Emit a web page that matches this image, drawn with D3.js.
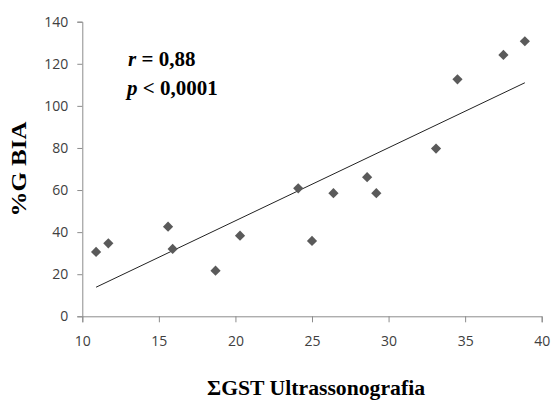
<!DOCTYPE html>
<html>
<head>
<meta charset="utf-8">
<script src="https://cdn.jsdelivr.net/npm/d3@7"></script>
<style>
body{margin:0;background:#fff;}
svg{display:block;}
</style>
</head>
<body>
<svg width="551" height="400"></svg>
<script>
// data
var gst = [10.9, 11.7, 15.6, 15.9, 18.7, 20.3, 24.1, 25.0, 26.4, 28.6, 29.2, 33.1, 34.5, 37.5, 38.9];
var gbia = [30.6, 34.7, 42.6, 32.0, 21.7, 38.3, 60.8, 35.8, 58.5, 66.1, 58.5, 79.7, 112.6, 124.2, 130.7];
var xTicks = [10, 15, 20, 25, 30, 35, 40];
var yTicks = [0, 20, 40, 60, 80, 100, 120, 140];
var trendX = [10.9, 38.9];
var slope = 3.47, intercept = -24.0;

var svg = d3.select('svg');
var x = d3.scaleLinear().domain([10, 40]).range([82.3, 541.7]);
var y = d3.scaleLinear().domain([0, 140]).range([316.3, 21.7]);

var ax = svg.append('g').attr('transform', 'translate(0,316.3)')
  .call(d3.axisBottom(x).tickValues(xTicks).tickSizeOuter(0).tickSize(6).tickPadding(14));
var ay = svg.append('g').attr('transform', 'translate(82.3,0)')
  .call(d3.axisLeft(y).tickValues(yTicks).tickSizeOuter(0).tickSize(5).tickPadding(9));
[ax, ay].forEach(function (g) {
  g.selectAll('path,line').attr('stroke', '#8c8c8c');
  g.selectAll('text').attr('fill', '#404040').style('font-family', "'Open Sans', sans-serif").style('font-size', '14px');
});

svg.append('line')
  .attr('x1', x(trendX[0])).attr('y1', y(slope * trendX[0] + intercept))
  .attr('x2', x(trendX[1])).attr('y2', y(slope * trendX[1] + intercept))
  .attr('stroke', '#222').attr('stroke-width', 1);

var sym = d3.symbol().type(d3.symbolSquare).size(52);
svg.selectAll('.pt').data(gst).enter().append('path')
  .attr('class', 'pt')
  .attr('d', sym)
  .attr('transform', function (d, i) { return 'translate(' + x(d) + ',' + y(gbia[i]) + ') rotate(45)'; })
  .attr('fill', '#5a5a5a');

var serif = "'Liberation Serif', 'Times New Roman', serif";
var t1 = svg.append('text').attr('x', 128).attr('y', 65.5)
  .style('font-family', serif).style('font-weight', 'bold').style('font-size', '21px');
t1.append('tspan').style('font-style', 'italic').text('r');
t1.append('tspan').text(' = 0,88');
var t2 = svg.append('text').attr('x', 127).attr('y', 95)
  .style('font-family', serif).style('font-weight', 'bold').style('font-size', '21px');
t2.append('tspan').style('font-style', 'italic').text('p');
t2.append('tspan').text(' < 0,0001');

svg.append('text').attr('transform', 'translate(26,169) rotate(-90)')
  .attr('text-anchor', 'middle')
  .style('font-family', serif).style('font-weight', 'bold').style('font-size', '20px')
  .attr('textLength', 95).attr('lengthAdjust', 'spacingAndGlyphs')
  .text('%G BIA');

svg.append('text').attr('x', 316).attr('y', 395)
  .attr('text-anchor', 'middle')
  .style('font-family', serif).style('font-weight', 'bold').style('font-size', '21px')
  .attr('textLength', 218).attr('lengthAdjust', 'spacingAndGlyphs')
  .text('\u03A3GST Ultrassonografia');
</script>
</body>
</html>
